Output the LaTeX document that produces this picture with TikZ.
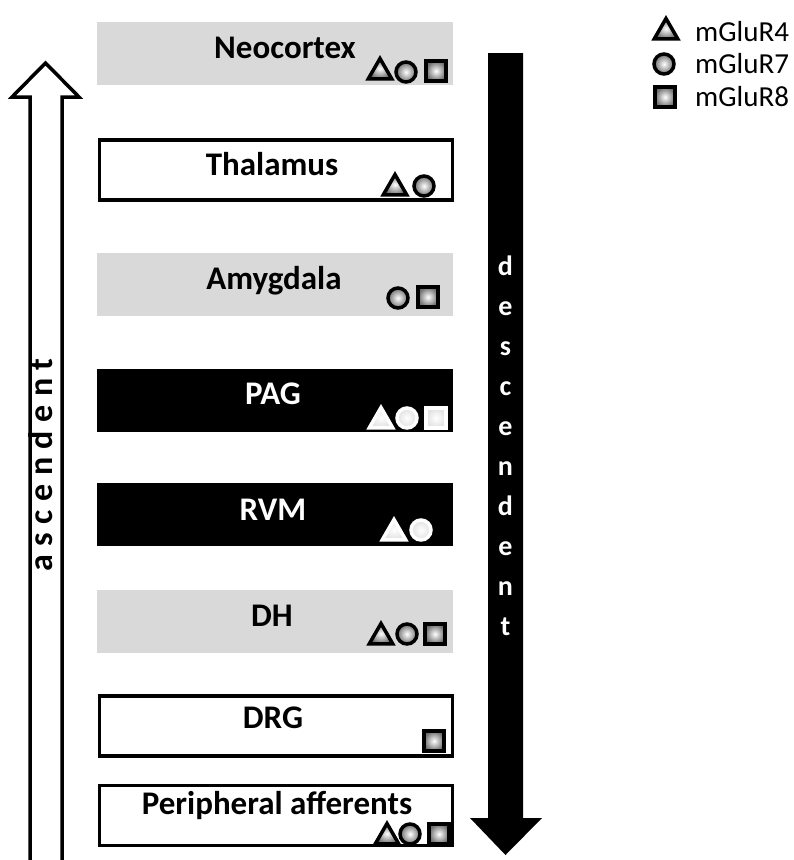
\documentclass[tikz,border=0pt]{standalone}
\usepackage{fontspec}
\setmainfont{Carlito}
\usepackage{tikz}
\usetikzlibrary{arrows.meta, positioning, calc, shapes}
\definecolor{boxgray}{RGB}{217,217,217}
\definecolor{icongray}{RGB}{110,110,110}
\definecolor{iconlight}{RGB}{225,225,225}

\begin{document}
\begin{tikzpicture}[x=1pt, y=-1pt,
  area/.style={minimum width=356pt, minimum height=63pt, inner sep=0pt},
  grayarea/.style={area, fill=boxgray},
  openarea/.style={area, draw, line width=3.5pt, minimum width=353pt, minimum height=60pt},
  darkarea/.style={area, fill=black},
  lbl/.style={font=\fontsize{33}{40}\selectfont\bfseries, inner sep=0pt, text height=0.7em, text depth=0.2em},
  tri/.style={regular polygon, regular polygon sides=3, minimum size=27pt, inner sep=0pt, draw, line width=3.5pt, shade, inner color=white, outer color=icongray},
  ball/.style={circle, minimum size=20pt, inner sep=0pt, draw, line width=3.5pt, shade, inner color=white, outer color=icongray},
  cube/.style={rectangle, minimum size=20pt, inner sep=0pt, draw, line width=3.5pt, shade, inner color=white, outer color=icongray},
  lit/.style={draw=white, inner color=white, outer color=iconlight},
  key/.style={font=\fontsize{29}{34}\selectfont, inner sep=0pt}]
  \clip (0,0) rectangle (794,860);

  % Regions
  \node[grayarea] (nc) at (275,53.5) {};
  \node[openarea] (th) at (276,170) {};
  \node[grayarea] (am) at (275,284.5) {};
  \node[darkarea] (pag) at (275,400.5) {};
  \node[darkarea] (rvm) at (275,514.5) {};
  \node[grayarea] (dh) at (275,621) {};
  \node[openarea] (drg) at (276,726) {};
  \node[openarea] (pa) at (276,815.5) {};

  % Labels
  \node[lbl] (ncT) at (285,56) {Neocortex};
  \node[lbl] (thT) at (272,173) {Thalamus};
  \node[lbl] (amT) at (274,287) {Amygdala};
  \node[lbl, white] (pagT) at (273,402) {PAG};
  \node[lbl, white] (rvmT) at (273,518) {RVM};
  \node[lbl] (dhT) at (272,624) {DH};
  \node[lbl] (drgT) at (273,726) {DRG};
  \node[lbl] (paT) at (277,812) {Peripheral afferents};

  % Receptors
  \node[tri] (nc4) at (380,72) {};
  \node[ball] (nc7) at (406,72) {};
  \node[cube] (nc8) at (436,71) {};
  \node[tri] (th4) at (395,188) {};
  \node[ball] (th7) at (424,186) {};
  \node[ball] (am7) at (398,298) {};
  \node[cube] (am8) at (428,297) {};
  \node[tri, lit] (pag4) at (381,421) {};
  \node[ball, lit] (pag7) at (407,418) {};
  \node[cube, lit] (pag8) at (436,418) {};
  \node[tri, lit] (rvm4) at (394,533) {};
  \node[ball, lit] (rvm7) at (421,530) {};
  \node[tri] (dh4) at (381,637) {};
  \node[ball] (dh7) at (407,634) {};
  \node[cube] (dh8) at (435,634) {};
  \node[cube] (drg8) at (434,741) {};
  \node[tri] (pa4) at (387,837) {};
  \node[ball] (pa7) at (410,834) {};
  \node[cube] (pa8) at (439,834) {};

  % Legend
  \node[tri] (lg4) at (666,32) {};
  \node[ball] (lg7) at (664,64) {};
  \node[cube] (lg8) at (665,97) {};
  \node[key, right=29pt of lg4.center] (lg4T) {mGluR4};
  \node[key, right=31pt of lg7.center] (lg7T) {mGluR7};
  \node[key, right=30pt of lg8.center] (lg8T) {mGluR8};

  % Ascending pathway
  \draw[line width=3.5pt, line join=miter] (30,870) -- (30,97) -- (12,97) -- (45.5,63) -- (79,97) -- (62,97) -- (62,870);
  \node[font=\fontsize{34}{40}\selectfont\bfseries\addfontfeature{LetterSpace=25}, rotate=90, anchor=base, inner sep=0pt] (asc) at (52,465) {ascendent};

  % Descending pathway
  \fill (488,53) -- (523,53) -- (523,818) -- (542,818) -- (505.5,855) -- (470,818) -- (488,818) -- cycle;
  \foreach \l [count=\i from 0] in {d,e,s,c,e,n,d,e,n,t}
    \node[white, font=\fontsize{28}{34}\selectfont\bfseries, anchor=base, inner sep=0pt] (dsc\i) at (505.5,275+40*\i) {\l};
\end{tikzpicture}
\end{document}
